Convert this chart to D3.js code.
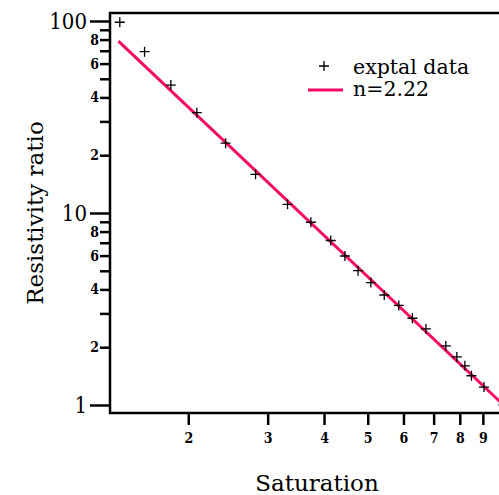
<!DOCTYPE html>
<html>
<head>
<meta charset="utf-8">
<script src="https://cdn.jsdelivr.net/npm/d3@7"></script>
<style>
  body { margin: 0; background: #fff; }
  svg { display: block; }
</style>
</head>
<body>
<script>
// data
let saturation = [1.41, 1.6, 1.83, 2.09, 2.42, 2.82, 3.32, 3.74, 4.14, 4.45, 4.76, 5.08, 5.44, 5.86, 6.28, 6.73, 7.45, 7.88, 8.21, 8.49, 9.05, 10]
let resistivity = [98.5, 69.2, 46.4, 33.3, 23.1, 15.9, 11.1, 8.95, 7.19, 5.97, 5.01, 4.34, 3.74, 3.3, 2.83, 2.49, 2.03, 1.78, 1.6, 1.42, 1.24, 1.0]

// fitted line n=2.22, end points
let fitX = [1.4, 10]
let fitY = [78.5, 1]

let xTicks = [2, 3, 4, 5, 6, 7, 8, 9]
let yMajor = [1, 10, 100]
let yMinor = [2, 3, 4, 5, 6, 7, 8, 9, 20, 30, 40, 50, 60, 70, 80, 90]
let yMinorLabels = [2, 4, 6, 8, 20, 40, 60, 80]

let width = 499
let height = 495
let frame = {left: 110, top: 13, bottom: 413, right: 530}

let pink = "#f50a64"

// log scales
let x = d3.scaleLog()
    .domain([1, 10])
    .range([52.5, 503.5])

let y = d3.scaleLog()
    .domain([1, 100])
    .range([405, 21])

let svg = d3.select("body")
    .append("svg")
    .attr("width", width)
    .attr("height", height)

// frame
svg.append("rect")
    .attr("x", frame.left)
    .attr("y", frame.top)
    .attr("width", frame.right - frame.left)
    .attr("height", frame.bottom - frame.top)
    .attr("fill", "none")
    .attr("stroke", "#000")
    .attr("stroke-width", 2.5)

// x axis
let xAxis = svg.append("g")
    .attr("transform", "translate(0," + frame.bottom + ")")
    .call(d3.axisBottom(x)
      .tickValues(xTicks)
      .tickSize(12)
      .tickPadding(8)
      .tickFormat(d3.format("d")))
xAxis.select(".domain").remove()
xAxis.selectAll("line").attr("stroke-width", 2.5)
xAxis.selectAll("text")
    .attr("font-family", "'DejaVu Serif Condensed', 'DejaVu Serif', serif")
    .attr("font-weight", "bold")
    .attr("font-size", 14)
    .attr("fill", "#000")

// y axis, minor ticks
let yAxisMinor = svg.append("g")
    .attr("transform", "translate(" + frame.left + ",0)")
    .call(d3.axisLeft(y)
      .tickValues(yMinor)
      .tickSize(10)
      .tickPadding(1)
      .tickFormat(d => yMinorLabels.includes(d) ? String(d).charAt(0) : ""))
yAxisMinor.select(".domain").remove()
yAxisMinor.selectAll("line").attr("stroke-width", 2.5)
yAxisMinor.selectAll("text")
    .attr("font-family", "'DejaVu Serif Condensed', 'DejaVu Serif', serif")
    .attr("font-weight", "bold")
    .attr("font-size", 14)
    .attr("fill", "#000")

// y axis, decades
let yAxisMajor = svg.append("g")
    .attr("transform", "translate(" + frame.left + ",0)")
    .call(d3.axisLeft(y)
      .tickValues(yMajor)
      .tickSize(20)
      .tickPadding(3)
      .tickFormat(d3.format("d")))
yAxisMajor.select(".domain").remove()
yAxisMajor.selectAll("line").attr("stroke-width", 2.5)
yAxisMajor.selectAll("text")
    .attr("font-family", "'DejaVu Serif Condensed', 'DejaVu Serif', serif")
    .attr("font-size", 22)
    .attr("fill", "#000")

// fitted line
let line = d3.line()
    .x(d => x(d[0]))
    .y(d => y(d[1]))

svg.append("path")
    .datum(d3.zip(fitX, fitY))
    .attr("d", line)
    .attr("fill", "none")
    .attr("stroke", pink)
    .attr("stroke-width", 3)

// data crosses
let cross = d3.symbol().type(d3.symbolCross)
svg.selectAll(".pt")
    .data(d3.zip(saturation, resistivity))
    .enter()
    .append("path")
    .attr("class", "pt")
    .attr("d", d => "M-5,0H5M0,-5V5")
    .attr("transform", d => "translate(" + x(d[0]) + "," + y(d[1]) + ")")
    .attr("stroke", "#000")
    .attr("stroke-width", 1.3)

// legend
let legend = svg.append("g")
legend.append("path")
    .attr("d", "M-5,0H5M0,-5V5")
    .attr("transform", "translate(324,66)")
    .attr("stroke", "#000")
    .attr("stroke-width", 1.3)
legend.append("text")
    .attr("x", 353)
    .attr("y", 74)
    .text("exptal data")
legend.append("line")
    .attr("x1", 308)
    .attr("x2", 343)
    .attr("y1", 90)
    .attr("y2", 90)
    .attr("stroke", pink)
    .attr("stroke-width", 3)
legend.append("text")
    .attr("x", 353)
    .attr("y", 96)
    .text("n=2.22")
legend.selectAll("text")
    .attr("font-family", "'DejaVu Serif', serif")
    .attr("font-size", 20.5)

// axis titles
svg.append("text")
    .attr("x", 317)
    .attr("y", 491)
    .attr("text-anchor", "middle")
    .attr("font-family", "'DejaVu Serif', serif")
    .attr("font-size", 23)
    .text("Saturation")

svg.append("text")
    .attr("transform", "translate(43,213) rotate(-90)")
    .attr("text-anchor", "middle")
    .attr("font-family", "'DejaVu Serif', serif")
    .attr("font-size", 23)
    .text("Resistivity ratio")
</script>
</body>
</html>
